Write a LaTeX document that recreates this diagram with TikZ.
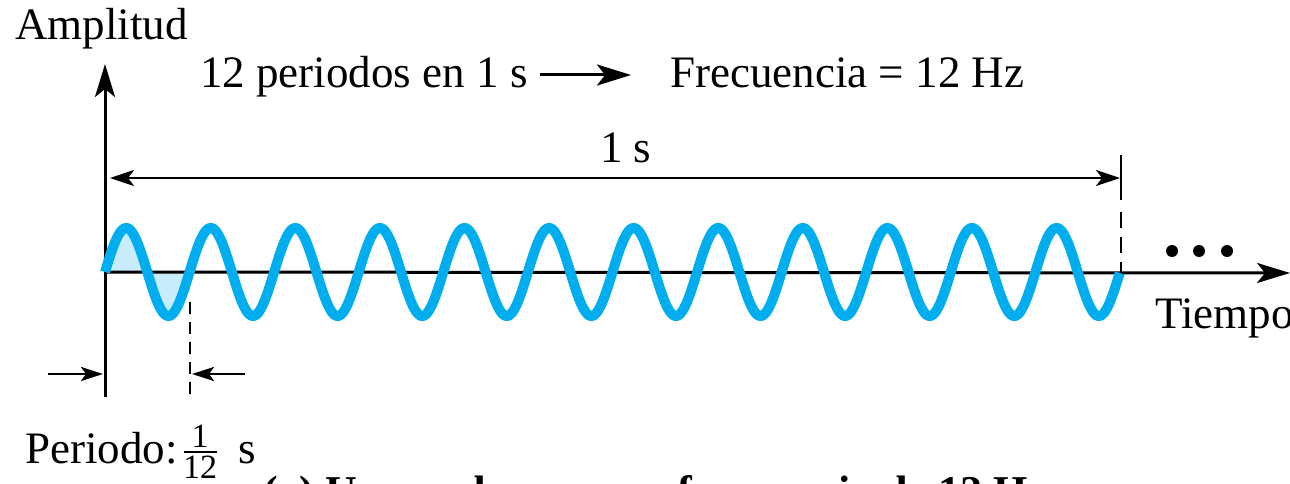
\documentclass[tikz,border=0pt]{standalone}
\usepackage{fontspec}
\setmainfont{Liberation Serif}
\usetikzlibrary{arrows.meta}
\definecolor{wavecol}{RGB}{0,174,239}
\definecolor{wavefill}{RGB}{200,236,250}
\begin{document}
\begin{tikzpicture}[x=1pt,y=-1pt,
  every node/.style={inner sep=0pt},
  txt/.style={anchor=base west, font=\fontsize{45}{54}\selectfont},
  small/.style={anchor=base, font=\fontsize{34}{40}\selectfont},
  axisline/.style={line width=3pt, -{Stealth[length=33pt,width=20pt,inset=8pt]}},
  dimline/.style={line width=2.5pt, {Stealth[length=24pt,width=16pt,inset=6pt]}-{Stealth[length=24pt,width=16pt,inset=6pt]}},
  onearrow/.style={line width=2.5pt, -{Stealth[length=22pt,width=14pt,inset=5pt]}},
  bigarrow/.style={line width=3pt, -{Stealth[length=34pt,width=21pt,inset=8pt]}},
  guide/.style={line width=2.5pt},
  wavestroke/.style={draw=wavecol, line width=10pt}]
\useasboundingbox (0,0) rectangle (1290,484);

% texts
\node[txt] (amp) at (15,40) {Amplitud};
\node[txt] (per) at (200,88) {12 periodos en 1 s};
\node[txt] (freq) at (670,88) {Frecuencia = 12 Hz};
\draw[bigarrow] ([shift={(12,-13)}]per.base east) -- ([shift={(-39,-13)}]freq.base west);
\node[txt] (ones) at (600,162) {1 s};
\node[txt] (tiempo) at (1155,328) {Tiempo};
\node[txt] (periodo) at (25,463) {Periodo:};
\node[small] (num) at (200,447) {1};
\node[small] (den) at (200,478) {12};
\draw[line width=2pt] (184,452) -- (217,452);
\node[txt] (sec) at (238,463) {s};

% coordinates
\coordinate (O) at (105,272);
\coordinate (ytop) at (105,64);
\coordinate (ybot) at (105,397);
\coordinate (xend) at (1290,273);
\coordinate (dl) at (110,178);
\coordinate (dr) at (1120,178);

% fill first period
\fill[wavefill] plot[domain=0:1,samples=100] ({105+84.583*\x},{272-44*sin(360*\x)}) -- cycle;

% axes
\draw[axisline] (ybot) -- (ytop);
\draw[axisline] (O) -- (xend);

% wave
\draw[wavestroke] plot[domain=0:12,samples=800] ({105+84.583*\x},{272-44*sin(360*\x)});

% 1 s dimension
\draw[dimline] (dl) -- (dr);
\draw[guide] (1121,155) -- (1121,200);
\draw[guide, dash pattern=on 16pt off 9pt] (1121,212) -- (1121,273);

% period markers
\draw[guide, dash pattern=on 12pt off 8pt] (190,302) -- (190,397);
\coordinate (pl0) at (48,374);
\coordinate (pl1) at (103,374);
\coordinate (pr0) at (245,374);
\coordinate (pr1) at (192,374);
\draw[onearrow] (pl0) -- (pl1);
\draw[onearrow] (pr0) -- (pr1);

% dots
\fill (1172,251) circle (6pt);
\fill (1199,251) circle (6pt);
\fill (1227,251) circle (6pt);

% cut-off caption
\begin{scope}
\clip (0,0) rectangle (1290,484);
\node[txt, font=\bfseries\fontsize{44}{52}\selectfont] (cap) at (263,506) {(a) Una onda con una frecuencia de 12 Hz};
\end{scope}
\end{tikzpicture}
\end{document}
